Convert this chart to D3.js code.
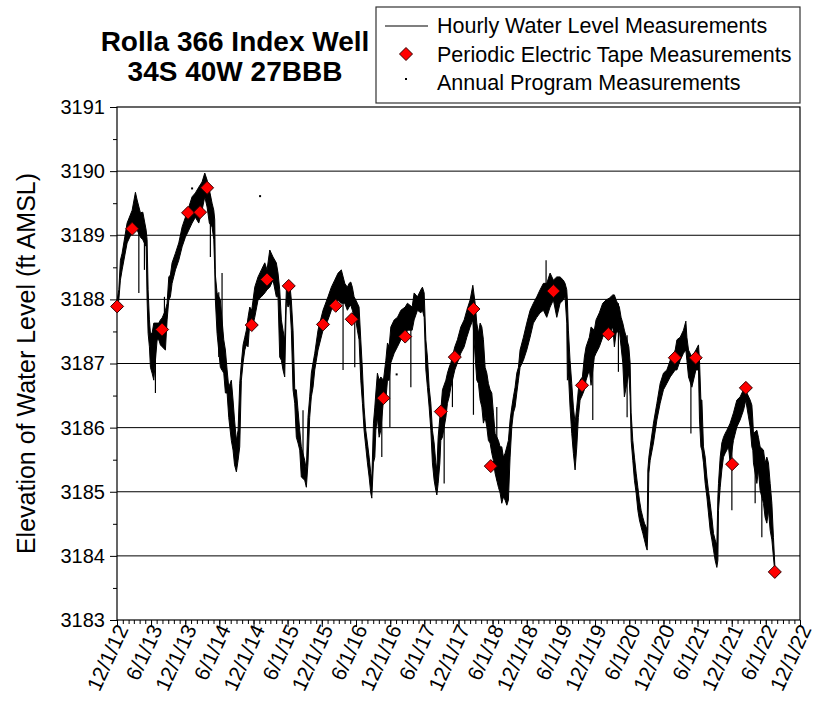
<!DOCTYPE html>
<html>
<head>
<meta charset="utf-8">
<script src="https://cdn.jsdelivr.net/npm/d3@7"></script>
<style>
  body { margin: 0; background: #fff; }
  text { font-family: "Liberation Sans", Arial, sans-serif; fill: #000; }
</style>
</head>
<body>
<div id="chart"></div>
<script>
// hourly record as [decimal year, low of daily band, high of daily band]
var hourly2013 = [
  [2012.917, 3187.86, 3187.99], [2012.942, 3187.99, 3188.15], [2012.965, 3188.30, 3188.61],
  [2012.990, 3188.46, 3188.72], [2013.063, 3188.88, 3189.19], [2013.137, 3189.05, 3189.39],
  [2013.185, 3189.13, 3189.67], [2013.210, 3189.08, 3189.55], [2013.258, 3188.97, 3189.35],
  [2013.293, 3188.93, 3189.36], [2013.342, 3188.82, 3189.08], [2013.356, 3187.99, 3188.93],
  [2013.371, 3187.47, 3188.15], [2013.390, 3187.26, 3187.68], [2013.405, 3186.94, 3187.47],
  [2013.429, 3186.85, 3187.47], [2013.454, 3186.74, 3187.63], [2013.503, 3187.37, 3187.63],
  [2013.528, 3187.37, 3187.63], [2013.551, 3187.29, 3187.68], [2013.576, 3187.26, 3187.71],
  [2013.624, 3187.21, 3187.83], [2013.649, 3187.68, 3187.94], [2013.674, 3187.99, 3188.35],
  [2013.697, 3188.04, 3188.38], [2013.722, 3188.25, 3188.57], [2013.771, 3188.46, 3188.72],
  [2013.820, 3188.61, 3188.88], [2013.869, 3188.82, 3189.13], [2013.917, 3188.97, 3189.28],
  [2013.967, 3189.08, 3189.44], [2014.015, 3189.19, 3189.60], [2014.063, 3189.28, 3189.66],
  [2014.113, 3189.19, 3189.75], [2014.161, 3189.39, 3189.83], [2014.201, 3189.60, 3189.97],
  [2014.235, 3189.44, 3189.86], [2014.268, 3189.19, 3189.71], [2014.308, 3189.13, 3189.50],
  [2014.333, 3188.93, 3189.39], [2014.347, 3188.46, 3189.24], [2014.356, 3187.99, 3188.38],
  [2014.381, 3187.47, 3188.10], [2014.429, 3186.94, 3187.99], [2014.479, 3186.85, 3187.37],
  [2014.503, 3186.54, 3187.21], [2014.528, 3186.54, 3186.90], [2014.552, 3186.16, 3186.63]
];
var hourly2015 = [
  [2014.590, 3185.80, 3186.74], [2014.615, 3185.65, 3186.43], [2014.637, 3185.42, 3186.12],
  [2014.664, 3185.31, 3185.80], [2014.689, 3185.49, 3185.96], [2014.713, 3185.70, 3186.69],
  [2014.737, 3186.74, 3187.01], [2014.762, 3187.01, 3187.29], [2014.787, 3187.21, 3187.41],
  [2014.810, 3187.29, 3187.52], [2014.835, 3187.26, 3187.72], [2014.860, 3187.63, 3187.88],
  [2014.889, 3187.52, 3187.83], [2014.933, 3187.72, 3188.19], [2014.981, 3187.99, 3188.35],
  [2015.030, 3188.04, 3188.46], [2015.080, 3188.10, 3188.57], [2015.113, 3188.15, 3188.46],
  [2015.153, 3188.19, 3188.77], [2015.201, 3188.30, 3188.66], [2015.249, 3188.04, 3188.57],
  [2015.274, 3188.04, 3188.41], [2015.299, 3187.10, 3188.15], [2015.323, 3187.05, 3187.68],
  [2015.347, 3186.90, 3187.52], [2015.372, 3186.79, 3187.37], [2015.396, 3187.99, 3188.15],
  [2015.421, 3187.88, 3188.15], [2015.446, 3187.94, 3188.25], [2015.469, 3187.52, 3187.99],
  [2015.494, 3186.59, 3187.52], [2015.519, 3186.38, 3186.59], [2015.542, 3185.85, 3186.59],
  [2015.567, 3185.76, 3186.27], [2015.592, 3185.65, 3185.96], [2015.615, 3185.23, 3185.70],
  [2015.665, 3185.18, 3185.49], [2015.689, 3185.07, 3185.34], [2015.713, 3185.45, 3186.16],
  [2015.738, 3186.16, 3186.48], [2015.762, 3186.48, 3186.85], [2015.787, 3186.63, 3187.01],
  [2015.812, 3186.90, 3187.16], [2015.860, 3187.21, 3187.52], [2015.933, 3187.52, 3187.83],
  [2016.006, 3187.68, 3188.04], [2016.055, 3187.83, 3188.19], [2016.104, 3187.94, 3188.30],
  [2016.153, 3187.99, 3188.41], [2016.201, 3187.94, 3188.46], [2016.251, 3187.94, 3188.25]
];
var hourly2017 = [
  [2016.289, 3187.83, 3188.19], [2016.314, 3187.88, 3188.25], [2016.339, 3187.91, 3188.27],
  [2016.362, 3187.83, 3188.19], [2016.387, 3187.72, 3188.04], [2016.412, 3187.68, 3187.99],
  [2016.435, 3187.52, 3187.94], [2016.460, 3187.37, 3187.88], [2016.485, 3186.74, 3187.37],
  [2016.509, 3186.38, 3186.90], [2016.533, 3185.96, 3186.32], [2016.558, 3185.70, 3185.96],
  [2016.582, 3185.45, 3185.76], [2016.607, 3185.23, 3185.54], [2016.631, 3184.98, 3185.29],
  [2016.646, 3184.90, 3185.18], [2016.670, 3185.45, 3186.07], [2016.690, 3185.54, 3186.32],
  [2016.705, 3185.96, 3186.54], [2016.728, 3186.16, 3186.85], [2016.753, 3185.85, 3186.74],
  [2016.778, 3185.96, 3186.79], [2016.816, 3186.43, 3186.74], [2016.851, 3186.43, 3187.05],
  [2016.875, 3186.74, 3187.32], [2016.899, 3186.74, 3187.26], [2016.924, 3187.01, 3187.57],
  [2016.973, 3187.16, 3187.68], [2017.021, 3187.26, 3187.72], [2017.071, 3187.37, 3187.83],
  [2017.134, 3187.41, 3187.88], [2017.167, 3187.52, 3187.94], [2017.236, 3187.52, 3187.88],
  [2017.265, 3187.68, 3188.10], [2017.314, 3187.83, 3188.04], [2017.364, 3187.79, 3188.15],
  [2017.387, 3187.83, 3188.19], [2017.412, 3187.72, 3188.10], [2017.437, 3186.90, 3187.37],
  [2017.460, 3186.63, 3187.10], [2017.485, 3186.32, 3186.63], [2017.510, 3185.96, 3186.38],
  [2017.533, 3185.45, 3185.96], [2017.558, 3185.18, 3185.76], [2017.583, 3185.02, 3185.45],
  [2017.598, 3184.95, 3185.34], [2017.617, 3185.13, 3185.85], [2017.642, 3185.45, 3186.16],
  [2017.656, 3185.80, 3186.27], [2017.680, 3185.85, 3186.59], [2017.730, 3186.16, 3186.74],
  [2017.753, 3186.38, 3186.85], [2017.778, 3186.48, 3186.94], [2017.803, 3186.63, 3187.01],
  [2017.861, 3186.90, 3187.26], [2017.899, 3187.01, 3187.37], [2017.949, 3187.16, 3187.57],
  [2017.998, 3187.26, 3187.68]
];
var hourly2019 = [
  [2018.037, 3187.41, 3187.83], [2018.085, 3187.57, 3187.99], [2018.125, 3187.68, 3188.22],
  [2018.159, 3187.10, 3187.94], [2018.183, 3186.74, 3187.63], [2018.207, 3186.69, 3187.47],
  [2018.232, 3186.43, 3187.63], [2018.257, 3186.32, 3187.57], [2018.280, 3186.07, 3187.37],
  [2018.305, 3186.16, 3186.94], [2018.330, 3186.01, 3186.85], [2018.353, 3185.80, 3186.69],
  [2018.378, 3185.76, 3186.59], [2018.403, 3185.60, 3186.54], [2018.426, 3185.49, 3186.23],
  [2018.451, 3185.29, 3185.91], [2018.500, 3185.07, 3185.80], [2018.525, 3184.98, 3185.70],
  [2018.549, 3184.82, 3185.70], [2018.573, 3184.92, 3185.54], [2018.598, 3184.87, 3185.60],
  [2018.623, 3184.79, 3185.70], [2018.646, 3184.87, 3185.80], [2018.671, 3185.54, 3186.12],
  [2018.696, 3186.01, 3186.32], [2018.719, 3186.23, 3186.48], [2018.744, 3186.32, 3186.63],
  [2018.769, 3186.54, 3186.85], [2018.793, 3186.74, 3186.94], [2018.817, 3186.94, 3187.21],
  [2018.866, 3187.05, 3187.41], [2018.915, 3187.21, 3187.63], [2018.964, 3187.41, 3187.83],
  [2019.012, 3187.63, 3187.94], [2019.062, 3187.72, 3188.04], [2019.110, 3187.79, 3188.15],
  [2019.159, 3187.83, 3188.25], [2019.208, 3187.72, 3188.25], [2019.257, 3187.88, 3188.41],
  [2019.305, 3187.99, 3188.30], [2019.355, 3187.72, 3188.35], [2019.403, 3187.94, 3188.35],
  [2019.451, 3187.99, 3188.30], [2019.476, 3188.04, 3188.25], [2019.501, 3187.63, 3188.15],
  [2019.510, 3186.74, 3187.99], [2019.525, 3186.85, 3187.52], [2019.549, 3186.32, 3187.05],
  [2019.574, 3185.91, 3186.69], [2019.598, 3185.60, 3186.32], [2019.623, 3185.34, 3186.07],
  [2019.648, 3185.70, 3186.32], [2019.671, 3186.16, 3186.59], [2019.696, 3186.43, 3186.74]
];
var hourly2022 = [
  [2019.730, 3186.51, 3186.79], [2019.759, 3186.59, 3187.10], [2019.784, 3186.74, 3187.26],
  [2019.832, 3186.90, 3187.41], [2019.857, 3186.66, 3187.57], [2019.905, 3187.10, 3187.52],
  [2019.930, 3187.16, 3187.68], [2019.978, 3187.26, 3187.79], [2020.028, 3187.41, 3187.94],
  [2020.077, 3187.52, 3187.99], [2020.125, 3187.47, 3188.02], [2020.175, 3187.57, 3188.07],
  [2020.198, 3187.26, 3188.07], [2020.223, 3187.47, 3187.99], [2020.271, 3187.52, 3187.88],
  [2020.296, 3187.26, 3187.72], [2020.321, 3187.01, 3187.63], [2020.344, 3186.48, 3187.52],
  [2020.409, 3186.85, 3187.26], [2020.428, 3186.48, 3187.01], [2020.443, 3185.80, 3186.23],
  [2020.467, 3185.49, 3185.80], [2020.491, 3185.18, 3185.54], [2020.516, 3184.98, 3185.29],
  [2020.541, 3184.71, 3185.07], [2020.564, 3184.56, 3184.87], [2020.589, 3184.45, 3184.71],
  [2020.614, 3184.35, 3184.60], [2020.637, 3184.25, 3184.51], [2020.662, 3184.14, 3184.45],
  [2020.677, 3184.09, 3184.40], [2020.687, 3184.40, 3185.34], [2020.702, 3185.29, 3185.54],
  [2020.721, 3185.49, 3185.70], [2020.769, 3185.76, 3186.07], [2020.819, 3186.12, 3186.38],
  [2020.867, 3186.38, 3186.69], [2020.915, 3186.59, 3186.85], [2020.965, 3186.69, 3186.90],
  [2021.014, 3186.79, 3187.05], [2021.087, 3186.90, 3187.21], [2021.112, 3186.90, 3187.37],
  [2021.160, 3187.05, 3187.41], [2021.208, 3187.16, 3187.52], [2021.243, 3187.21, 3187.66],
  [2021.258, 3187.05, 3187.41], [2021.282, 3186.79, 3187.21], [2021.331, 3186.63, 3187.10],
  [2021.390, 3186.90, 3187.21], [2021.428, 3186.90, 3187.29], [2021.443, 3186.12, 3187.05],
  [2021.463, 3185.70, 3186.43], [2021.478, 3185.65, 3186.43], [2021.501, 3185.45, 3185.70],
  [2021.526, 3185.13, 3185.54], [2021.551, 3184.92, 3185.23], [2021.574, 3184.67, 3185.02],
  [2021.599, 3184.40, 3184.82], [2021.624, 3184.25, 3184.60], [2021.648, 3184.09, 3184.35],
  [2021.672, 3183.93, 3184.25], [2021.697, 3183.82, 3184.17], [2021.712, 3183.93, 3184.92],
  [2021.721, 3184.71, 3185.13], [2021.746, 3185.07, 3185.54], [2021.770, 3185.34, 3185.76],
  [2021.794, 3185.54, 3185.85], [2021.819, 3185.60, 3185.91], [2021.844, 3185.65, 3185.96],
  [2021.867, 3185.70, 3186.01], [2021.892, 3185.45, 3186.07], [2021.940, 3185.80, 3186.23],
  [2021.990, 3186.01, 3186.43], [2022.038, 3186.12, 3186.48], [2022.087, 3186.27, 3186.59],
  [2022.122, 3186.43, 3186.63], [2022.137, 3186.32, 3186.54], [2022.185, 3186.01, 3186.43],
  [2022.210, 3185.70, 3186.35], [2022.224, 3185.65, 3186.12], [2022.233, 3185.45, 3185.91],
  [2022.283, 3185.13, 3185.96], [2022.306, 3185.34, 3185.85], [2022.331, 3185.02, 3185.70],
  [2022.380, 3184.82, 3185.65], [2022.404, 3184.60, 3185.45], [2022.429, 3184.51, 3185.54],
  [2022.453, 3184.71, 3185.45], [2022.478, 3184.40, 3185.13], [2022.503, 3184.25, 3184.82],
  [2022.526, 3183.98, 3184.29], [2022.546, 3183.75, 3183.86]
];

// short pumping drawdowns / rebounds in the hourly record: [decimal year, low, high]
var hourlySpikes = [
  [2013.235, 3188.10, 3189.35], [2013.317, 3188.46, 3189.16], [2013.478, 3186.54, 3187.63],
  [2013.610, 3187.26, 3188.04], [2014.283, 3188.66, 3189.63], [2014.406, 3187.10, 3188.11],
  [2014.454, 3186.90, 3188.41], [2015.640, 3185.45, 3186.27], [2016.226, 3186.90, 3188.30],
  [2016.397, 3186.94, 3187.99], [2016.792, 3185.54, 3186.66], [2016.910, 3186.01, 3187.21],
  [2017.217, 3186.63, 3187.88], [2017.705, 3185.13, 3186.48], [2017.826, 3186.32, 3187.10],
  [2018.134, 3186.20, 3187.99], [2018.476, 3185.18, 3186.32], [2019.198, 3187.76, 3188.61],
  [2019.882, 3186.12, 3187.52], [2020.257, 3186.87, 3187.94], [2020.384, 3186.16, 3187.44],
  [2021.317, 3185.91, 3187.13], [2021.917, 3184.71, 3186.12], [2022.258, 3184.82, 3185.85],
  [2022.356, 3184.29, 3185.54]
];

// periodic electric tape measurements
var tapeYears = [2012.917, 2013.137, 2013.576, 2013.956, 2014.132, 2014.235, 2014.889, 2015.113,
  2015.431, 2015.933, 2016.119, 2016.353, 2016.816, 2017.134, 2017.656, 2017.861, 2018.134,
  2018.388, 2019.305, 2019.725, 2020.110, 2021.082, 2021.387, 2021.921, 2022.122, 2022.546];
var tapeLevels = [3187.89, 3189.10, 3187.53, 3189.35, 3189.36, 3189.74, 3187.60, 3188.31,
  3188.21, 3187.61, 3187.90, 3187.69, 3186.46, 3187.42, 3186.25, 3187.10, 3187.85,
  3185.40, 3188.13, 3186.66, 3187.46, 3187.09, 3187.09, 3185.43, 3186.62, 3183.75];

// annual program measurements
var annualYears = [2014.015, 2015.011, 2017.009];
var annualLevels = [3189.73, 3189.61, 3186.83];

var tickLabels = ["12/1/12", "6/1/13", "12/1/13", "6/1/14", "12/1/14", "6/1/15", "12/1/15",
  "6/1/16", "12/1/16", "6/1/17", "12/1/17", "6/1/18", "12/1/18", "6/1/19", "12/1/19",
  "6/1/20", "12/1/20", "6/1/21", "12/1/21", "6/1/22", "12/1/22"];
var levelTicks = [3183, 3184, 3185, 3186, 3187, 3188, 3189, 3190, 3191];

//svg size
var svgWidth = 817;
var svgHeight = 715;
var margin = { top: 107, right: 17, bottom: 95, left: 117 };
var width = svgWidth - margin.left - margin.right;
var height = svgHeight - margin.top - margin.bottom;

//decimal year -> Date
function toDate(t) {
  var yr = Math.floor(t);
  var a = Date.UTC(yr, 0, 1), b = Date.UTC(yr + 1, 0, 1);
  return new Date(a + (t - yr) * (b - a));
}
var parseTick = d3.utcParse("%m/%d/%y");
var tickDates = tickLabels.map(parseTick);

var svg = d3.select("#chart").append("svg")
  .attr("width", svgWidth)
  .attr("height", svgHeight);

var chartGroup = svg.append("g")
  .attr("transform", `translate(${margin.left}, ${margin.top})`);

var x = d3.scaleUtc()
  .domain([tickDates[0], tickDates[tickDates.length - 1]])
  .range([0, width]);
var y = d3.scaleLinear()
  .domain([3183, 3191])
  .range([height, 0]);

//gridlines
chartGroup.selectAll(".grid")
  .data(levelTicks.slice(1, -1))
  .enter().append("line")
  .attr("x1", 0).attr("x2", width)
  .attr("y1", d => y(d)).attr("y2", d => y(d))
  .attr("stroke", "#000").attr("stroke-width", 1);

//frame
chartGroup.append("rect")
  .attr("x", 0).attr("y", 0)
  .attr("width", width).attr("height", height)
  .attr("fill", "none").attr("stroke", "#000").attr("stroke-width", 1.2);

//y axis: majors + half-foot minors
var leftAxis = d3.axisLeft(y).tickValues(levelTicks).tickSize(7).tickPadding(5).tickFormat(d3.format("d"));
var yAxis = chartGroup.append("g").call(leftAxis);
yAxis.select(".domain").remove();
yAxis.selectAll("text").attr("font-size", "20px").attr("font-family", '"Liberation Sans", Arial, sans-serif');
var minorY = d3.range(3183.5, 3191, 1);
chartGroup.append("g").call(d3.axisLeft(y).tickValues(minorY).tickSize(4).tickFormat(""))
  .select(".domain").remove();

//x axis: monthly minors + labelled majors
var months = d3.utcMonth.range(tickDates[0], d3.utcDay.offset(tickDates[tickDates.length - 1], 1));
chartGroup.append("g")
  .attr("transform", `translate(0, ${height})`)
  .call(d3.axisBottom(x).tickValues(months).tickSize(4).tickFormat(""))
  .select(".domain").remove();
chartGroup.append("g")
  .attr("transform", `translate(0, ${height})`)
  .call(d3.axisBottom(x).tickValues(tickDates).tickSize(7).tickFormat(""))
  .select(".domain").remove();

chartGroup.selectAll(".xlab")
  .data(tickDates)
  .enter().append("text")
  .attr("font-size", "21px")
  .attr("text-anchor", "end")
  .attr("transform", (d, i) => `translate(${x(d) + 12}, ${height + 9}) rotate(-65)`)
  .text((d, i) => tickLabels[i]);

//hourly band
var hourly = hourly2013.concat(hourly2015, hourly2017, hourly2019, hourly2022);
var band = d3.area()
  .x(d => x(toDate(d[0])))
  .y0(d => y(d[1]))
  .y1(d => y(d[2]));
chartGroup.append("path")
  .datum(hourly)
  .attr("d", band)
  .attr("fill", "#000")
  .attr("stroke", "#000")
  .attr("stroke-width", 1)
  .attr("stroke-linejoin", "round");

chartGroup.selectAll(".spike")
  .data(hourlySpikes)
  .enter().append("line")
  .attr("x1", d => x(toDate(d[0]))).attr("x2", d => x(toDate(d[0])))
  .attr("y1", d => y(d[1])).attr("y2", d => y(d[2]))
  .attr("stroke", "#000").attr("stroke-width", 1.2);

//annual program dots
chartGroup.selectAll(".annual")
  .data(annualYears)
  .enter().append("rect")
  .attr("x", d => x(toDate(d)) - 1)
  .attr("y", (d, i) => y(annualLevels[i]) - 1)
  .attr("width", 2).attr("height", 2)
  .attr("fill", "#000");

//tape diamonds
var diamond = "M0,-6.5L6.5,0L0,6.5L-6.5,0Z";
chartGroup.selectAll(".tape")
  .data(tapeYears)
  .enter().append("path")
  .attr("d", diamond)
  .attr("transform", (d, i) => `translate(${x(toDate(d))}, ${y(tapeLevels[i])})`)
  .attr("fill", "#ff0000")
  .attr("stroke", "#300")
  .attr("stroke-width", 1);

//y title
svg.append("text")
  .attr("font-size", "25px")
  .attr("text-anchor", "middle")
  .attr("transform", `translate(35, ${margin.top + height / 2}) rotate(-90)`)
  .text("Elevation of Water Level (ft AMSL)");

//title
svg.append("text")
  .attr("x", 235).attr("y", 51)
  .attr("font-size", "28px").attr("font-weight", "bold")
  .attr("text-anchor", "middle")
  .text("Rolla 366 Index Well");
svg.append("text")
  .attr("x", 235).attr("y", 81)
  .attr("font-size", "28px").attr("font-weight", "bold")
  .attr("text-anchor", "middle")
  .text("34S 40W 27BBB");

//legend
var legend = svg.append("g");
legend.append("rect")
  .attr("x", 376).attr("y", 7)
  .attr("width", 424).attr("height", 96)
  .attr("fill", "#fff").attr("stroke", "#333").attr("stroke-width", 1.2);
legend.append("line")
  .attr("x1", 385).attr("x2", 428)
  .attr("y1", 26).attr("y2", 26)
  .attr("stroke", "#000").attr("stroke-width", 1.2);
legend.append("path")
  .attr("d", diamond)
  .attr("transform", "translate(406, 54)")
  .attr("fill", "#ff0000").attr("stroke", "#300");
legend.append("rect")
  .attr("x", 405).attr("y", 78).attr("width", 2).attr("height", 2)
  .attr("fill", "#000");
var legendLabels = ["Hourly Water Level Measurements", "Periodic Electric Tape Measurements", "Annual Program Measurements"];
legend.selectAll(".ltext")
  .data(legendLabels)
  .enter().append("text")
  .attr("x", 437)
  .attr("y", (d, i) => 33 + i * 28.5)
  .attr("font-size", "21.5px")
  .text(d => d);
</script>
</body>
</html>
